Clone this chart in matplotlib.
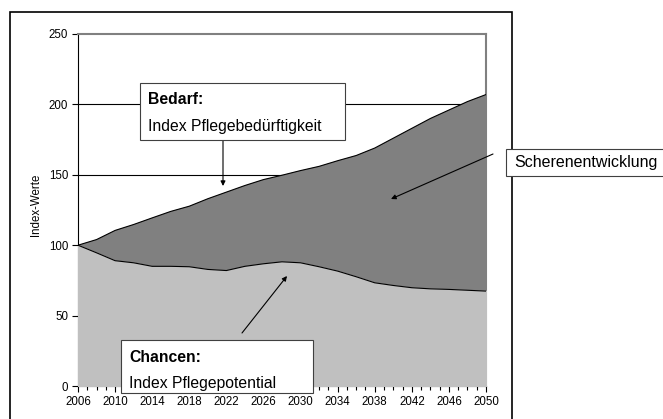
import numpy as np
import matplotlib.pyplot as plt
from matplotlib.patches import Rectangle
from matplotlib.ticker import MultipleLocator

plt.rcParams['font.family'] = ['Liberation Sans', 'DejaVu Sans']

# data (every second year)
years = [2006, 2008, 2010, 2012, 2014, 2016, 2018, 2020, 2022, 2024, 2026, 2028,
         2030, 2032, 2034, 2036, 2038, 2040, 2042, 2044, 2046, 2048, 2050]
bedarf = [100, 104, 110.5, 114.7, 119.4, 124, 127.7, 133, 137.7, 142.4, 146.6, 149.7,
          153, 156, 160, 163.7, 169, 176, 183, 190, 196, 202, 207]
chancen = [100, 94.6, 89, 87.5, 85, 85, 84.7, 82.8, 82, 85, 86.8, 88.2,
           87.5, 84.7, 81.6, 77.6, 73.3, 71.4, 69.8, 69, 68.6, 68, 67.4]
tick_years = list(range(2006, 2051, 4))

fig = plt.figure(figsize=(6.63, 4.19), dpi=100)
ax = fig.add_axes([78/663, 33/419, 408/663, 352/419])

# outer frame around the chart
fig.patches.append(Rectangle((10/663, -0.05), 502/663, 1.05 - 12/419,
                             transform=fig.transFigure, fill=False,
                             edgecolor='black', linewidth=1.2, zorder=0))

for v in [50, 100, 150, 200]:
    ax.axhline(v, color='black', linewidth=0.8, zorder=1)

ax.fill_between(years, 0, bedarf, color='#808080', zorder=2)
ax.fill_between(years, 0, chancen, color='#c0c0c0', zorder=3)
ax.plot(years, bedarf, color='black', linewidth=0.8, zorder=4)
ax.plot(years, chancen, color='black', linewidth=0.8, zorder=4)

ax.set_xlim(2006, 2050)
ax.set_ylim(0, 250)
ax.set_xticks(tick_years)
ax.xaxis.set_minor_locator(MultipleLocator(1))
ax.set_yticks(range(0, 251, 50))
ax.tick_params(axis='both', labelsize=8.3, length=4, width=0.8, pad=3)
ax.tick_params(axis='x', which='minor', length=3, width=0.8)
ax.set_ylabel('Index-Werte', fontsize=8.3, labelpad=3)
ax.yaxis.set_label_coords(-36/408, 0.515)

for s in ['top', 'right']:
    ax.spines[s].set_color('#808080')
    ax.spines[s].set_linewidth(1.5)
for s in ['left', 'bottom']:
    ax.spines[s].set_color('black')
    ax.spines[s].set_linewidth(0.8)

def box(x0, y0, w, h):
    # pixel coords from the top-left of the image
    r = Rectangle((x0/663, 1 - (y0 + h)/419), w/663, h/419,
                  transform=fig.transFigure, facecolor='white',
                  edgecolor='#404040', linewidth=0.8, zorder=10)
    fig.patches.append(r)

def txt(x, y, s, bold=False, size=11.3):
    fig.text(x/663, 1 - y/419, s, fontsize=size, va='center', ha='left',
             fontweight='bold' if bold else 'normal', zorder=11)

def arrow(x0, y0, x1, y1):
    fig.add_artist(plt.Annotation('', xy=(x1/663, 1 - y1/419), xytext=(x0/663, 1 - y0/419),
                                  xycoords='figure fraction', textcoords='figure fraction',
                                  arrowprops=dict(arrowstyle='-|>', color='black', lw=0.8,
                                                  mutation_scale=7, shrinkA=0, shrinkB=0)))

box(139.5, 83, 205.5, 57)
txt(148, 100, 'Bedarf:', bold=True)
txt(148, 127, 'Index Pflegebedürftigkeit')
arrow(223, 140, 223, 186)

box(120.5, 340, 192.5, 53)
txt(129, 357, 'Chancen:', bold=True)
txt(129, 383, 'Index Pflegepotential')
arrow(242, 333, 287, 276)

box(506, 149, 160, 27)
txt(514, 162, 'Scherenentwicklung', size=11.5)
arrow(493, 154, 391, 199)

fig.savefig('out.png', dpi=100)
